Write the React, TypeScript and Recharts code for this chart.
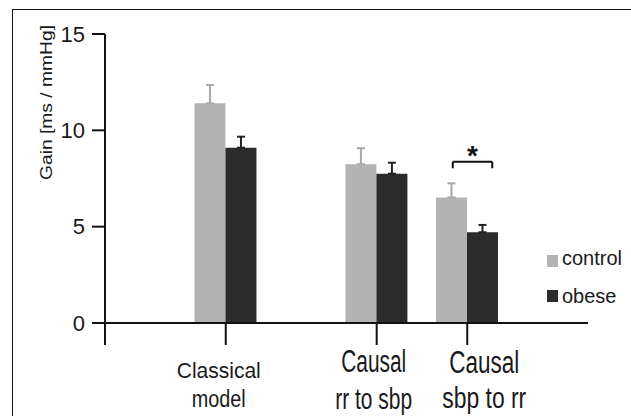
import React from 'react';
import { BarChart, Bar, XAxis, YAxis, ErrorBar, ReferenceLine, ReferenceDot, Legend } from 'recharts';

const categoryLines = [['Classical', 'model'], ['Causal', 'rr to sbp'], ['Causal', 'sbp to rr']];
const categoryPos = [1, 2.25, 3];
const controlMean = [11.4, 8.24, 6.52];
const obeseMean = [9.1, 7.75, 4.71];
const controlErr = [0.95, 0.83, 0.73];
const obeseErr = [0.57, 0.57, 0.38];
const seriesNames = ['control', 'obese'];
const yTicks = [0, 5, 10, 15];
const xTicks = [0, ...categoryPos];
const yLabel = 'Gain [ms / mmHg]';
const sigPair = { left: 2.88, right: 3.207, top: 8.37, bottom: 8.03, starX: 3.043, starY: 8.98 };

const COLORS = { control: '#b3b3b3', obese: '#2b2b2b', controlErr: '#a8a8a8', obeseErr: '#222', axis: '#111', text: '#1a1a1a' };
const FONT = '"Liberation Sans", Arial, Helvetica, sans-serif';

const data = categoryPos.map((pos, i) => ({
  pos,
  control: controlMean[i],
  obese: obeseMean[i],
  cErr: [0, controlErr[i]],
  oErr: [0, obeseErr[i]],
}));

const labelLayout = [
  { dx: -7, lines: [{ dy: 33, size: 22, len: 84 }, { dy: 62, size: 23, len: 54 }] },
  { dx: -3, lines: [{ dy: 27, size: 31, len: 65 }, { dy: 64, size: 29, len: 77 }] },
  { dx: 17, lines: [{ dy: 28, size: 31, len: 70 }, { dy: 63, size: 29, len: 84 }] },
];

const XTick = (props: any) => {
  const { x, y, payload } = props;
  const idx = categoryPos.indexOf(payload.value);
  if (idx < 0) return null;
  const lay = labelLayout[idx];
  return (
    <g>
      {categoryLines[idx].map((t, j) => (
        <text
          key={j}
          x={x + lay.dx}
          y={y + lay.lines[j].dy}
          textAnchor="middle"
          fontFamily={FONT}
          fontSize={lay.lines[j].size}
          fill={COLORS.text}
          textLength={lay.lines[j].len}
          lengthAdjust="spacingAndGlyphs"
        >
          {t}
        </text>
      ))}
    </g>
  );
};

const renderYLabel = () => (
  <text
    x={52}
    y={102.5}
    transform="rotate(-90 52 102.5)"
    textAnchor="middle"
    fontFamily={FONT}
    fontSize={17}
    fill={COLORS.text}
    textLength={155}
    lengthAdjust="spacingAndGlyphs"
  >
    {yLabel}
  </text>
);

const renderLegend = () => (
  <svg width={90} height={70} style={{ display: 'block' }}>
    {seriesNames.map((n, i) => (
      <g key={n}>
        <rect x={7} y={10 + i * 35} width={11} height={12} fill={i === 0 ? COLORS.control : COLORS.obese} />
        <text x={22} y={20 + i * 38} fontFamily={FONT} fontSize={20} fill={COLORS.text}>
          {n}
        </text>
      </g>
    ))}
  </svg>
);

const Star = (p: any) => (
  <text x={p.cx} y={p.cy + 15} textAnchor="middle" fontFamily={FONT} fontWeight="bold" fontSize={28} fill="#111">
    *
  </text>
);

export default function App() {
  return (
    <div style={{ position: 'absolute', left: 0, top: 0, width: 631, height: 416, overflow: 'hidden', background: '#fff' }}>
      <div style={{ position: 'absolute', left: 12, top: 9, width: 660, height: 460, border: '1px solid #111' }} />
      <div style={{ position: 'absolute', left: 0, top: 0 }}>
        <BarChart width={631} height={416} data={data} margin={{ top: 34, right: 43, left: 0, bottom: 0 }} barGap={0}>
          <XAxis
            dataKey="pos"
            type="number"
            domain={[0, 4]}
            ticks={xTicks}
            allowDataOverflow
            height={93}
            tickSize={22}
            tickMargin={0}
            tick={<XTick />}
            axisLine={{ stroke: COLORS.axis, strokeWidth: 2 }}
            tickLine={{ stroke: COLORS.axis, strokeWidth: 2 }}
            interval={0}
          />
          <YAxis
            type="number"
            domain={[0, 15]}
            ticks={yTicks}
            width={105}
            tickSize={13}
            tickMargin={7}
            tick={{ fontFamily: FONT, fontSize: 22, fill: COLORS.text }}
            axisLine={{ stroke: COLORS.axis, strokeWidth: 2 }}
            tickLine={{ stroke: COLORS.axis, strokeWidth: 2 }}
            label={{ value: yLabel, content: renderYLabel }}
          />
          <Bar dataKey="control" name={seriesNames[0]} fill={COLORS.control} barSize={31} isAnimationActive={false}>
            <ErrorBar dataKey="cErr" width={4} stroke={COLORS.controlErr} strokeWidth={2} direction="y" />
          </Bar>
          <Bar dataKey="obese" name={seriesNames[1]} fill={COLORS.obese} barSize={31} isAnimationActive={false}>
            <ErrorBar dataKey="oErr" width={4} stroke={COLORS.obeseErr} strokeWidth={2} direction="y" />
          </Bar>
          <ReferenceLine segment={[{ x: sigPair.left, y: sigPair.bottom }, { x: sigPair.left, y: sigPair.top }]} stroke="#111" strokeWidth={2} />
          <ReferenceLine segment={[{ x: sigPair.left, y: sigPair.top }, { x: sigPair.right, y: sigPair.top }]} stroke="#111" strokeWidth={2} />
          <ReferenceLine segment={[{ x: sigPair.right, y: sigPair.top }, { x: sigPair.right, y: sigPair.bottom }]} stroke="#111" strokeWidth={2} />
          <ReferenceDot x={sigPair.starX} y={sigPair.starY} r={0} shape={Star} />
          <Legend
            layout="vertical"
            align="center"
            verticalAlign="middle"
            wrapperStyle={{ left: 540, top: 245, width: 90, height: 70 }}
            content={renderLegend}
          />
        </BarChart>
      </div>
    </div>
  );
}
